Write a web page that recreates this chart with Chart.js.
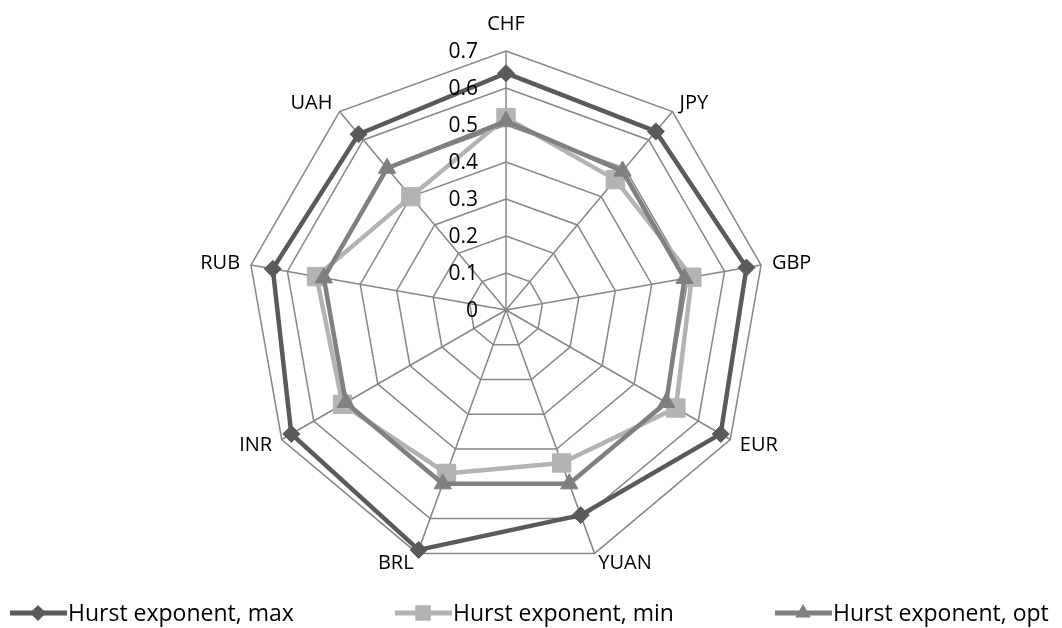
<!DOCTYPE html>
<html>
<head>
<title>Hurst exponent radar</title>
<script src="https://cdn.jsdelivr.net/npm/chart.js"></script>
</head>
<style>
html, body { margin: 0; padding: 0; background: #fff; }
#wrap { width: 1062px; height: 628px; }
</style>
<body>
<div id="wrap"><canvas id="chart"></canvas></div>
<script>
const currencies = ['CHF', 'JPY', 'GBP', 'EUR', 'YUAN', 'BRL', 'INR', 'RUB', 'UAH'];
const hurstMax = [0.64, 0.63, 0.66, 0.67, 0.59, 0.69, 0.67, 0.64, 0.62];
const hurstMin = [0.52, 0.46, 0.51, 0.53, 0.44, 0.47, 0.51, 0.52, 0.40];
const hurstOpt = [0.51, 0.49, 0.49, 0.50, 0.50, 0.50, 0.50, 0.50, 0.50];
const tickValues = [0, 0.1, 0.2, 0.3, 0.4, 0.5, 0.6, 0.7];

const FONT = '"Open Sans", sans-serif';
const gridColor = '#878787';

const series = [
  {label: 'Hurst exponent, max', data: hurstMax, color: '#5a5a5a', style: 'rectRot', r: 8.5, legendR: 8, order: 3},
  {label: 'Hurst exponent, min', data: hurstMin, color: '#b3b3b3', style: 'rect', r: 13, legendR: 11, order: 2},
  {label: 'Hurst exponent, opt', data: hurstOpt, color: '#808080', style: 'triangle', r: 10, legendR: 9, order: 1}
];
// left edge of each legend entry
const legendX = [10, 395, 775];

// tick labels sit left of the vertical axis, like in the original
const tickLabelPlugin = {
  id: 'tickLabels',
  afterDraw(chart) {
    const s = chart.scales.r;
    const ctx = chart.ctx;
    ctx.save();
    ctx.font = '21px ' + FONT;
    ctx.fillStyle = '#000';
    ctx.textAlign = 'right';
    ctx.textBaseline = 'middle';
    tickValues.forEach(v => {
      const d = s.getDistanceFromCenterForValue(v);
      ctx.fillText(String(v), s.xCenter - 28, s.yCenter - d + 1);
    });
    ctx.restore();
  }
};

// category labels: Excel puts them just past the outer ring, vertically centred
const pointLabelPlugin = {
  id: 'catLabels',
  afterDraw(chart) {
    const s = chart.scales.r;
    const ctx = chart.ctx;
    ctx.save();
    ctx.font = '20px ' + FONT;
    ctx.fillStyle = '#000';
    ctx.textBaseline = 'middle';
    currencies.forEach((name, i) => {
      const top = i === 0;
      const p = s.getPointPosition(i, s.drawingArea + (top ? 27 : 11));
      if (top) ctx.textAlign = 'center';
      else ctx.textAlign = p.x > s.xCenter ? 'left' : 'right';
      ctx.fillText(name, p.x, p.y);
    });
    ctx.restore();
  }
};

// Excel-style legend: line + marker, spread across the bottom
const spreadLegend = {
  id: 'spreadLegend',
  afterDraw(chart) {
    const ctx = chart.ctx;
    const y = 613;
    ctx.save();
    chart.data.datasets.forEach((ds, i) => {
      const x = legendX[i];
      ctx.strokeStyle = ds.borderColor;
      ctx.lineWidth = 5;
      ctx.beginPath();
      ctx.moveTo(x, y);
      ctx.lineTo(x + 57, y);
      ctx.stroke();
      ctx.fillStyle = ds.borderColor;
      Chart.helpers.drawPoint(ctx, {pointStyle: ds.pointStyle, radius: series[i].legendR, borderWidth: 0}, x + 28, y);
      ctx.fillStyle = '#000';
      ctx.font = '23px ' + FONT;
      ctx.textAlign = 'left';
      ctx.textBaseline = 'middle';
      ctx.fillText(ds.label, x + 58, y + 1);
    });
    ctx.restore();
  }
};

new Chart(document.getElementById('chart'), {
  type: 'radar',
  data: {
    labels: currencies,
    datasets: series.map(s => ({
      label: s.label,
      data: s.data,
      borderColor: s.color,
      backgroundColor: s.color,
      pointBackgroundColor: s.color,
      pointBorderColor: s.color,
      pointStyle: s.style,
      pointRadius: s.r,
      pointBorderWidth: 1,
      borderWidth: 4.5,
      fill: false,
      order: s.order
    }))
  },
  options: {
    responsive: true,
    maintainAspectRatio: false,
    animation: false,
    layout: {padding: {top: 51, bottom: 59, left: 0, right: 50}},
    plugins: {
      tooltip: {enabled: false},
      legend: {display: false}
    },
    scales: {
      r: {
        min: 0,
        max: 0.7,
        ticks: {stepSize: 0.1, display: false},
        grid: {color: gridColor, lineWidth: 1.5},
        angleLines: {color: gridColor, lineWidth: 1.5},
        pointLabels: {display: false}
      }
    }
  },
  plugins: [tickLabelPlugin, pointLabelPlugin, spreadLegend]
});
</script>
</body>
</html>
